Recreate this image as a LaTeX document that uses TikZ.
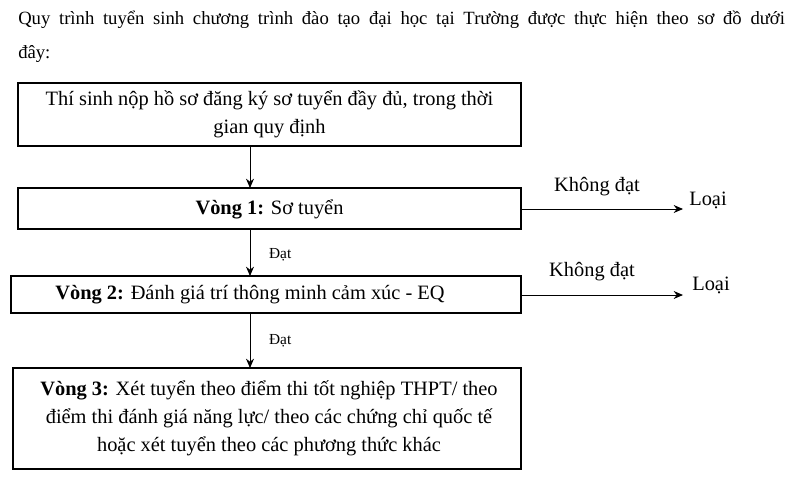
\documentclass[tikz,border=0pt]{standalone}
\usepackage{fontspec}
\setmainfont{Liberation Serif}
\usetikzlibrary{arrows.meta}
\begin{document}
\begin{tikzpicture}[x=0.75pt,y=-0.75pt,
  every node/.style={font=\fontsize{15.3}{21}\selectfont, inner sep=0pt},
  box/.style={draw, line width=0.8pt},
  arr/.style={-{Stealth[length=7pt,width=6pt]}, line width=0.7pt},
  lbl/.style={font=\fontsize{11.5}{14}\selectfont}]
\useasboundingbox (0,0) rectangle (800,479);
\node[anchor=north west, text width=575pt, align=justify, font=\fontsize{14}{25}\selectfont] (intro) at (18,11)
 {Quy trình tuyển sinh chương trình đào tạo đại học tại Trường được thực hiện theo sơ đồ dưới\linebreak đây:};
\draw[box] (18,83) rectangle (521,146);
\node[align=center] (t1) at (269.5,114.5) {Thí sinh nộp hồ sơ đăng ký sơ tuyển đầy đủ, trong thời\\gian quy định};
\coordinate (b1) at (250,146);
\draw[box] (18,188) rectangle (521,229);
\node (t2) at (269.5,209) {\textbf{Vòng 1:} Sơ tuyển};
\coordinate (b2t) at (250,188);
\coordinate (b2b) at (250,229);
\coordinate (b2r) at (521,209);
\draw[box] (11,276) rectangle (521,313);
\node (t3) at (250,295) {\textbf{Vòng 2: }Đánh giá trí thông minh cảm xúc - EQ};
\coordinate (b3t) at (250,276);
\coordinate (b3b) at (250,313);
\coordinate (b3r) at (521,295);
\draw[box] (13,368) rectangle (521,469);
\node[align=center] (t4) at (269,418) {\textbf{Vòng 3:} Xét tuyển theo điểm thi tốt nghiệp THPT/ theo\\điểm thi đánh giá năng lực/ theo các chứng chỉ quốc tế\\hoặc xét tuyển theo các phương thức khác};
\coordinate (b4t) at (250,368);
\draw[arr] (b1) -- (b2t);
\draw[arr] (b2b) -- node[lbl, right=14pt, pos=0.55] (d1) {Đạt} (b3t);
\draw[arr] (b3b) -- node[lbl, right=14pt, pos=0.5] (d2) {Đạt} (b4t);
\coordinate (e1) at (683,209);
\coordinate (e2) at (683,295);
\draw[arr] (b2r) -- (e1);
\draw[arr] (b3r) -- (e2);
\node (k1) at (597,187) {Không đạt};
\node (k2) at (592,272) {Không đạt};
\node (l1) at (708,200) {Loại};
\node (l2) at (711,285) {Loại};
\end{tikzpicture}
\end{document}
